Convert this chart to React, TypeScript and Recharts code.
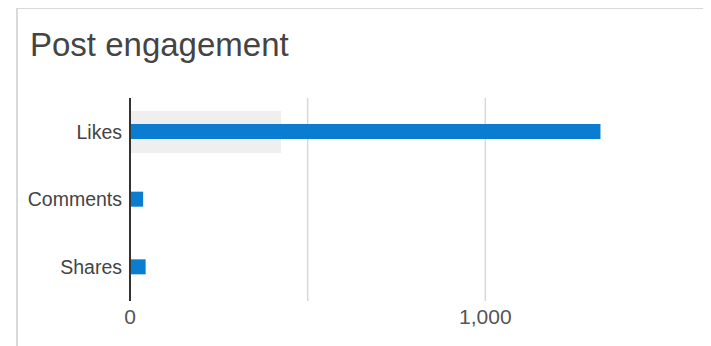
import React from 'react';
import { BarChart, Bar, XAxis, YAxis, CartesianGrid, ReferenceLine } from 'recharts';

const categories = ['Likes', 'Comments', 'Shares'];
const engagement = [1324, 37, 44];
const highlight = [425, 0, 0];
const xTicks = [0, 500, 1000];

const data = categories.map((name, i) => ({
  name,
  value: engagement[i],
  highlight: highlight[i],
}));

const FONT = '"Liberation Sans", Arial, sans-serif';

const formatTick = (v: number) => (v === 500 ? '' : v.toLocaleString('en-US'));

export default function App() {
  return (
    <div
      style={{
        position: 'relative',
        top: -1,
        marginLeft: 8,
        width: 700,
        height: 345,
        borderLeft: '2px solid #d9d9d9',
        borderTop: '2px solid #d9d9d9',
        background: '#fff',
        fontFamily: FONT,
        overflow: 'hidden',
      }}
    >
      <div
        style={{
          position: 'absolute',
          left: 12,
          top: 16,
          fontSize: 33,
          color: '#444',
          lineHeight: '40px',
        }}
      >
        Post engagement
      </div>
      <div style={{ position: 'absolute', left: 0, top: 0 }}>
        <BarChart
          width={680}
          height={337}
          data={data}
          layout="vertical"
          margin={{ top: 89, right: 35, bottom: 15, left: 0 }}
        >
          <CartesianGrid
            horizontal={false}
            verticalValues={xTicks}
            stroke="#d8d8d8"
            strokeWidth={1.5}
          />
          <XAxis
            type="number"
            domain={[0, 1500]}
            ticks={xTicks}
            tickFormatter={formatTick}
            axisLine={false}
            tickLine={false}
            height={30}
            tick={{ fill: '#555', fontSize: 21, fontFamily: FONT }}
          />
          <YAxis yAxisId="bg" type="category" dataKey="name" hide />
          <YAxis
            type="category"
            dataKey="name"
            width={112}
            tickLine={false}
            axisLine={false}
            tick={{ fill: '#444', fontSize: 19.5, fontFamily: FONT }}
          />
          <Bar
            yAxisId="bg"
            dataKey="highlight"
            fill="#efefef"
            barSize={42}
            isAnimationActive={false}
          />
          <Bar dataKey="value" fill="#0a7dd0" barSize={15} isAnimationActive={false} />
          <ReferenceLine x={0} stroke="#333" strokeWidth={2} />
        </BarChart>
      </div>
    </div>
  );
}
